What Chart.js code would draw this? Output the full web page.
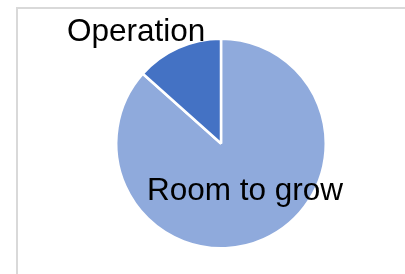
<!DOCTYPE html>
<html>
<head>
<meta charset="utf-8">
<script src="https://cdn.jsdelivr.net/npm/chart.js@4.4.1/dist/chart.umd.min.js"></script>
<style>
  html, body { margin: 0; padding: 0; background: #fff; }
  #wrap { position: relative; width: 405px; height: 274px; overflow: hidden; }
  #frame { position: absolute; left: 16px; top: 7px; width: 500px; height: 400px;
           border: 2px solid #d9d9d9; box-sizing: border-box; }
  canvas { position: absolute; left: 0; top: 0; }
</style>
</head>
<body>
<div id="wrap">
  <div id="frame"></div>
  <canvas id="pie" width="405" height="274"></canvas>
</div>
<script>
// slices go clockwise from 12 o'clock
const labels = ['Room to grow', 'Operation'];
const values = [86.6, 13.4];
const colors = ['#8faadc', '#4472c4'];
// label anchor, relative to the pie centre (text left / baseline)
const labelOffsets = [[-74, 56], [-154, -103]];

const sliceLabels = {
  id: 'sliceLabels',
  afterDatasetsDraw(chart) {
    const ctx = chart.ctx;
    const arcs = chart.getDatasetMeta(0).data;
    ctx.save();
    ctx.font = '31.5px "Liberation Sans", Arial, sans-serif';
    ctx.fillStyle = '#000';
    ctx.textAlign = 'left';
    ctx.textBaseline = 'alphabetic';
    arcs.forEach((arc, i) => {
      const [dx, dy] = labelOffsets[i];
      ctx.fillText(chart.data.labels[i], arc.x + dx, arc.y + dy);
    });
    ctx.restore();
  }
};

new Chart(document.getElementById('pie').getContext('2d'), {
  type: 'pie',
  data: {
    labels: labels,
    datasets: [{
      data: values,
      backgroundColor: colors,
      borderColor: '#ffffff',
      borderWidth: 2.5
    }]
  },
  options: {
    responsive: false,
    animation: false,
    layout: { padding: { left: 115, right: 78, top: 37, bottom: 24 } },
    plugins: {
      legend: { display: false },
      tooltip: { enabled: false },
      title: { display: false }
    }
  },
  plugins: [sliceLabels]
});
</script>
</body>
</html>
